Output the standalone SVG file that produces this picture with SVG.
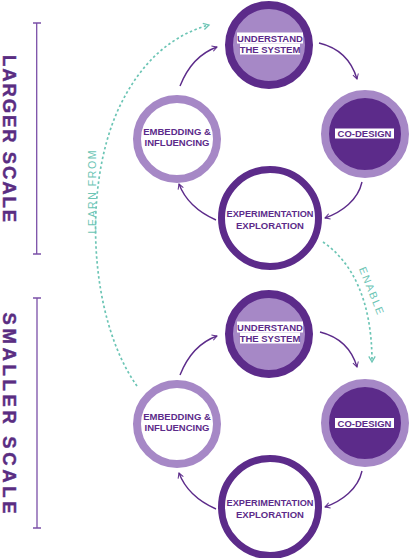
<svg xmlns="http://www.w3.org/2000/svg" width="409" height="558" viewBox="0 0 409 558">
<defs>
<style>
.lbl{font-family:"Liberation Sans",Arial,sans-serif;font-weight:700;font-size:9.5px;fill:#5c2b8a;text-anchor:middle}
.scale{font-family:"Liberation Sans",Arial,sans-serif;font-weight:700;font-size:18.5px;fill:#5a2d82;text-anchor:middle;stroke:#5a2d82;stroke-width:0.4}
.teal{font-family:"Liberation Sans",Arial,sans-serif;font-size:10.5px;fill:#6cc5b5;text-anchor:middle}
.arr{fill:none;stroke:#5c2b8a;stroke-width:1.4;marker-end:url(#ah)}
.dash{fill:none;stroke:#6cc5b5;stroke-width:1.7;stroke-dasharray:2.5 2.5;marker-end:url(#th)}
.bar{stroke:#7b50a8;stroke-width:1.3;fill:none}
.box{fill:#ffffff}
</style>
<marker id="ah" viewBox="0 0 10 10" refX="8" refY="5" markerWidth="7" markerHeight="7" markerUnits="userSpaceOnUse" orient="auto">
<path d="M1,1 L8,5 L1,9" fill="none" stroke="#5c2b8a" stroke-width="1.4"/>
</marker>
<marker id="th" viewBox="0 0 10 10" refX="8" refY="5" markerWidth="8" markerHeight="8" markerUnits="userSpaceOnUse" orient="auto">
<path d="M1,1 L8,5 L1,9" fill="none" stroke="#6cc5b5" stroke-width="1.6"/>
</marker>
</defs>
<rect width="409" height="558" fill="#ffffff"/>

<g id="scale-bars">
<path class="bar" d="M36.7,23 V254 M33,23 H41 M33,254 H41"/>
<path class="bar" d="M37,298 V528 M33,298 H41 M33,528 H41"/>
<text class="scale" transform="translate(3,138.5) rotate(90)" textLength="167" lengthAdjust="spacing">LARGER SCALE</text>
<text class="scale" transform="translate(3,413) rotate(90)" textLength="201" lengthAdjust="spacing">SMALLER SCALE</text>
</g>

<g id="connectors">
<path class="arr" d="M319,43 C340,48 352,62 357,79"/>
<path class="arr" d="M362,182 C358,200 342,212 325,218"/>
<path class="arr" d="M216,220 C198,212 185,200 179,184"/>
<path class="arr" d="M180,86 C188,66 200,53 217,47"/>
<path class="arr" d="M320,332 C340,337 352,350 357,367"/>
<path class="arr" d="M362,471 C358,489 342,501 325,507"/>
<path class="arr" d="M216,509 C198,501 185,489 179,473"/>
<path class="arr" d="M180,375 C188,355 200,342 217,336"/>
<path class="dash" d="M137,386 C90,320 82,190 118,110 C140,62 172,35 209,25"/>
<path class="dash" d="M323,242 C352,262 372,300 372,362"/>
<text class="teal" transform="translate(96,192) rotate(-90)" textLength="83" lengthAdjust="spacing">LEARN FROM</text>
<text class="teal" transform="translate(368,292) rotate(68)" textLength="50" lengthAdjust="spacing">ENABLE</text>
</g>

<g id="understand-top">
<circle cx="269" cy="45" r="40" fill="#a688c6" stroke="#5c2b8a" stroke-width="8"/>
<rect class="box" x="237" y="32.5" width="66" height="11"/>
<rect class="box" x="240" y="43.5" width="60" height="11"/>
<text class="lbl" x="270" y="41.8">UNDERSTAND</text>
<text class="lbl" x="270" y="52.5">THE SYSTEM</text>
</g>
<g id="codesign-top">
<circle cx="365" cy="134" r="40" fill="#5c2b8a" stroke="#a688c6" stroke-width="8"/>
<rect class="box" x="335" y="128.5" width="59" height="10"/>
<text class="lbl" x="364.5" y="137">CO-DESIGN</text>
</g>
<g id="embedding-top">
<circle cx="177" cy="139" r="40" fill="#ffffff" stroke="#a688c6" stroke-width="8"/>
<text class="lbl" x="177" y="134.5">EMBEDDING &amp;</text>
<text class="lbl" x="177" y="145.5">INFLUENCING</text>
</g>
<g id="experimentation-top">
<circle cx="270" cy="218" r="48.5" fill="#ffffff" stroke="#5c2b8a" stroke-width="7"/>
<text class="lbl" x="270" y="217" textLength="87" lengthAdjust="spacingAndGlyphs">EXPERIMENTATION</text>
<text class="lbl" x="270" y="228.5">EXPLORATION</text>
</g>

<g id="understand-bottom">
<circle cx="269" cy="334" r="40" fill="#a688c6" stroke="#5c2b8a" stroke-width="8"/>
<rect class="box" x="237" y="321.5" width="66" height="11"/>
<rect class="box" x="240" y="332.5" width="60" height="11"/>
<text class="lbl" x="270" y="330.8">UNDERSTAND</text>
<text class="lbl" x="270" y="341.5">THE SYSTEM</text>
</g>
<g id="codesign-bottom">
<circle cx="365" cy="423" r="40" fill="#5c2b8a" stroke="#a688c6" stroke-width="8"/>
<rect class="box" x="335" y="418" width="59" height="10"/>
<text class="lbl" x="364.5" y="426.5">CO-DESIGN</text>
</g>
<g id="embedding-bottom">
<circle cx="177" cy="424" r="40" fill="#ffffff" stroke="#a688c6" stroke-width="8"/>
<text class="lbl" x="177" y="419.5">EMBEDDING &amp;</text>
<text class="lbl" x="177" y="430.5">INFLUENCING</text>
</g>
<g id="experimentation-bottom">
<circle cx="270" cy="507" r="48.5" fill="#ffffff" stroke="#5c2b8a" stroke-width="7"/>
<text class="lbl" x="270" y="506" textLength="87" lengthAdjust="spacingAndGlyphs">EXPERIMENTATION</text>
<text class="lbl" x="270" y="517.5">EXPLORATION</text>
</g>
</svg>
